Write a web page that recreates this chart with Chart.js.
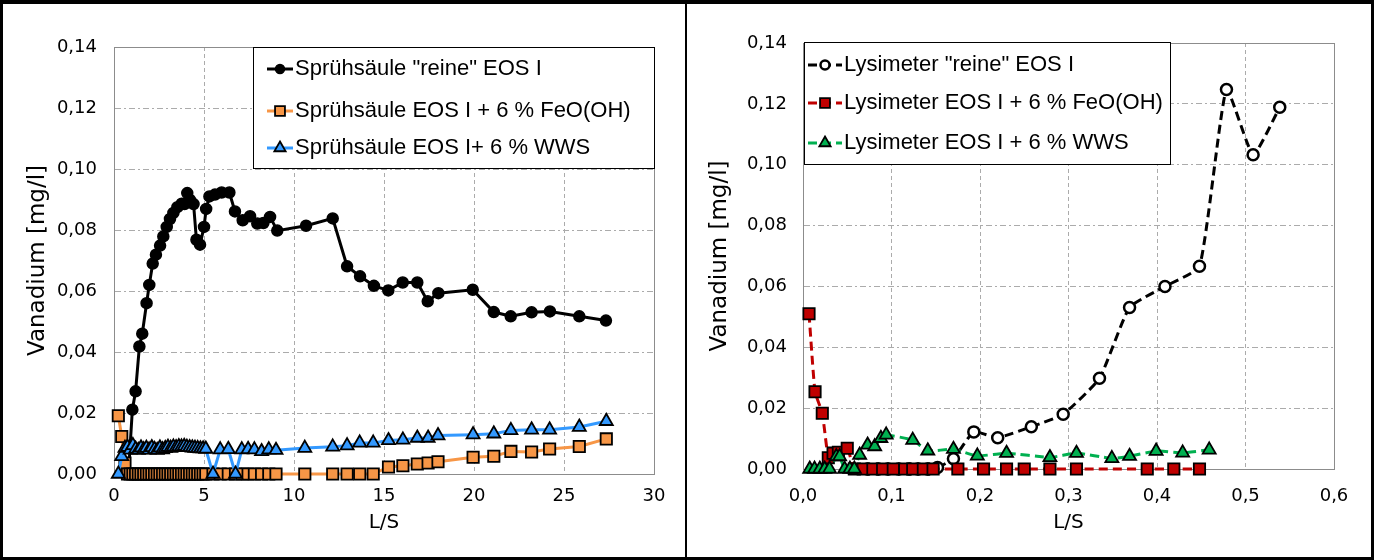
<!DOCTYPE html>
<html>
<head>
<meta charset="utf-8">
<script src="https://cdn.jsdelivr.net/npm/chart.js@4.4.1/dist/chart.umd.min.js"></script>
<style>
  html, body { margin: 0; padding: 0; background: #fff; }
  #frame {
    position: relative; width: 1374px; height: 560px; box-sizing: border-box;
    border: 3px solid #000; border-top-width: 4px;
  }
  #left { position: absolute; left: 0; top: 0; }
  #divider { position: absolute; left: 682px; top: 0; width: 2px; height: 553px; background: #000; }
  #right { position: absolute; left: 684px; top: 0; }
</style>
</head>
<body>
<div id="frame">
  <canvas id="left" width="682" height="553"></canvas>
  <div id="divider"></div>
  <canvas id="right" width="684" height="553"></canvas>
</div>
<script>
// Sprühsäule (left panel)
const sprayPureX = [0.8, 1.02, 1.2, 1.41, 1.57, 1.81, 1.96, 2.15, 2.33, 2.56, 2.74, 2.93, 3.11, 3.3, 3.52,
  3.76, 3.92, 4.07, 4.22, 4.42, 4.58, 4.78, 5.0, 5.12, 5.3, 5.61, 5.98, 6.41, 6.72, 7.15, 7.56, 7.96, 8.3,
  8.67, 9.07, 10.67, 12.15, 12.95, 13.67, 14.44, 15.24, 16.04, 16.85, 17.43, 18.02, 19.93, 21.1, 22.04,
  23.2, 24.22, 25.85, 27.33]
const sprayPureY = [0.0, 0.0211, 0.0271, 0.0418, 0.046, 0.056, 0.062, 0.069, 0.0719, 0.0749, 0.0779, 0.081,
  0.0836, 0.0856, 0.0875, 0.0886, 0.0885, 0.0921, 0.0899, 0.0885, 0.0768, 0.0752, 0.081, 0.0869, 0.091,
  0.0916, 0.0923, 0.0923, 0.0861, 0.0832, 0.0845, 0.0821, 0.0823, 0.0843, 0.0798, 0.0814, 0.0838, 0.0681,
  0.0648, 0.0617, 0.0602, 0.0628, 0.0628, 0.0566, 0.0593, 0.0604, 0.0531, 0.0517, 0.053, 0.0533, 0.0517,
  0.0503]

const sprayX = [0.24, 0.43, 0.61, 0.75, 0.9, 1.05, 1.2, 1.35, 1.5, 1.65, 1.8, 1.95, 2.1, 2.25, 2.4, 2.55,
  2.7, 2.85, 3.0, 3.15, 3.3, 3.45, 3.6, 3.75, 3.9, 4.05, 4.2, 4.35, 4.5, 4.65, 4.8, 4.95, 5.1, 5.5, 5.9,
  6.35, 6.75, 7.1, 7.45, 7.8, 8.2, 8.6, 9.0, 10.6, 12.15, 12.95, 13.65, 14.4, 15.25, 16.05, 16.85, 17.45,
  18.0, 19.95, 21.1, 22.05, 23.2, 24.2, 25.85, 27.35]
const sprayFeY = [0.0191, 0.0123, 0.0036, 0, 0, 0, 0, 0, 0, 0, 0, 0, 0, 0, 0, 0, 0, 0, 0, 0, 0, 0, 0, 0,
  0, 0, 0, 0, 0, 0, 0, 0, 0, 0, 0, 0, 0, 0, 0, 0, 0, 0, 0, 0, 0, 0, 0, 0, 0.0023, 0.0027, 0.0033, 0.0036,
  0.004, 0.0055, 0.0058, 0.0074, 0.0072, 0.0082, 0.009, 0.0115]
const sprayWwsY = [0, 0.0058, 0.0085, 0.0088, 0.0079, 0.0094, 0.0082, 0.0078, 0.0086, 0.008, 0.0085,
  0.0079, 0.0087, 0.0081, 0.0078, 0.0086, 0.008, 0.0084, 0.0088, 0.0085, 0.0089, 0.0087, 0.009, 0.0089,
  0.0091, 0.0088, 0.0087, 0.0086, 0.0085, 0.0084, 0.0083, 0.0083, 0.0082, 0, 0.008, 0.0081, 0, 0.008,
  0.0081, 0.008, 0.0074, 0.008, 0.0078, 0.0085, 0.0089, 0.0093, 0.0102, 0.0102, 0.011, 0.0112, 0.0118,
  0.0118, 0.0126, 0.0129, 0.0132, 0.0143, 0.0145, 0.0145, 0.0154, 0.0173]

// Lysimeter (right panel)
const lysPureX = [0.073, 0.085, 0.096, 0.108, 0.12, 0.13, 0.141, 0.152, 0.17, 0.193, 0.22, 0.258, 0.294,
  0.335, 0.369, 0.409, 0.448, 0.4785, 0.5086, 0.5387]
const lysPureY = [0, 0, 0, 0, 0, 0, 0, 0.0005, 0.0034, 0.0122, 0.0103, 0.0139, 0.018, 0.0298, 0.0531,
  0.06, 0.0666, 0.1247, 0.1033, 0.1189]
const lysFeX = [0.0068, 0.0136, 0.0218, 0.0286, 0.034, 0.04, 0.05, 0.058, 0.068, 0.079, 0.09, 0.102, 0.115,
  0.124, 0.136, 0.147, 0.175, 0.204, 0.23, 0.25, 0.279, 0.309, 0.389, 0.419, 0.448]
const lysFeY = [0.051, 0.0254, 0.0183, 0.0037, 0.0052, 0.0055, 0.0068, 0, 0, 0, 0, 0, 0, 0, 0, 0, 0, 0, 0,
  0, 0, 0, 0, 0, 0]
const lysWwsX = [0.0076, 0.013, 0.019, 0.0245, 0.03, 0.0376, 0.0414, 0.047, 0.053, 0.058, 0.064, 0.073,
  0.081, 0.088, 0.094, 0.124, 0.141, 0.17, 0.197, 0.23, 0.279, 0.309, 0.349, 0.369, 0.399, 0.429, 0.459]
const lysWwsY = [0, 0, 0, 0, 0, 0.0041, 0.0041, 0, 0, 0, 0.0046, 0.0079, 0.0074, 0.0101, 0.0112, 0.0095,
  0.006, 0.0065, 0.0043, 0.0052, 0.0038, 0.0052, 0.0035, 0.0042, 0.0059, 0.0053, 0.0063]

const sprayLabels = ['Sprühsäule "reine" EOS I', 'Sprühsäule EOS I + 6 % FeO(OH)', 'Sprühsäule EOS I+ 6 % WWS']
const lysLabels = ['Lysimeter "reine" EOS I', 'Lysimeter EOS I + 6 % FeO(OH)', 'Lysimeter EOS I + 6 % WWS']
const yTicks = [0, 0.02, 0.04, 0.06, 0.08, 0.1, 0.12, 0.14]

const pts = (xs, ys) => xs.map((x, i) => ({x, y: ys[i]}))
const comma = (v, d) => v.toFixed(d).replace('.', ',')

// legend box drawn inside the plot area, like the Excel original
const boxLegend = {
  id: 'boxLegend',
  afterDatasetsDraw(chart, args, opts) {
    const ctx = chart.ctx
    ctx.save()
    ctx.fillStyle = '#fff'
    ctx.fillRect(opts.x, opts.y, opts.w, opts.h)
    ctx.strokeStyle = '#000'
    ctx.lineWidth = 1
    ctx.strokeRect(opts.x + 0.5, opts.y + 0.5, opts.w, opts.h)
    chart.data.datasets.forEach((ds, i) => {
      const y = opts.rows[i]
      ctx.strokeStyle = ds.borderColor
      ctx.lineWidth = ds.borderWidth
      ctx.setLineDash(ds.borderDash || [])
      ctx.beginPath()
      ctx.moveTo(opts.lineFrom, y)
      ctx.lineTo(opts.lineTo, y)
      ctx.stroke()
      ctx.setLineDash([])
      ctx.fillStyle = ds.pointBackgroundColor
      ctx.strokeStyle = ds.pointBorderColor
      ctx.lineWidth = ds.pointBorderWidth
      Chart.helpers.drawPoint(ctx, {
        pointStyle: ds.pointStyle, radius: ds.pointRadius - 1,
        borderWidth: ds.pointBorderWidth, rotation: 0
      }, (opts.lineFrom + opts.lineTo) / 2, y)
      ctx.fillStyle = '#000'
      ctx.font = opts.font
      ctx.textBaseline = 'middle'
      ctx.fillText(ds.label, opts.textX, y)
    })
    ctx.restore()
  }
}

const plotFrame = {
  id: 'plotFrame',
  beforeDatasetsDraw(chart) {
    const {left, top, right, bottom} = chart.chartArea
    const ctx = chart.ctx
    ctx.save()
    ctx.strokeStyle = '#8c8c8c'
    ctx.lineWidth = 1
    ctx.strokeRect(left + 0.5, top + 0.5, right - left, bottom - top)
    ctx.restore()
  }
}

function scales(xMax, xDigits, geo) {
  return {
    x: {
      type: 'linear', min: 0, max: xMax,
      afterBuildTicks: s => { s.ticks = geo.xTicks.map(v => ({value: v})) },
      afterFit: s => { s.height = geo.xHeight },
      ticks: {
        color: '#000', padding: geo.xPad, maxRotation: 0,
        font: {family: 'DejaVu Sans', size: 18},
        callback: v => xDigits ? comma(v, xDigits) : String(v)
      },
      grid: {color: '#ababab', drawTicks: false},
      border: {color: '#8c8c8c', width: 1, dash: [4, 3]},
      title: {
        display: true, text: 'L/S', color: '#000',
        font: {family: 'DejaVu Sans', size: 20}, padding: {bottom: 22}
      }
    },
    y: {
      type: 'linear', min: 0, max: 0.14,
      afterBuildTicks: s => { s.ticks = yTicks.map(v => ({value: v})) },
      afterFit: s => { s.width = geo.yWidth },
      ticks: {
        color: '#000', padding: geo.yPad,
        font: {family: 'DejaVu Sans', size: 18},
        callback: v => comma(v, 2)
      },
      grid: {color: '#ababab', drawTicks: false},
      border: {color: '#8c8c8c', width: 1, dash: [6, 3, 2, 3]},
      title: {
        display: true, text: 'Vanadium [mg/l]', color: '#000',
        font: {family: 'DejaVu Sans', size: 23}, padding: {top: geo.titlePad}
      }
    }
  }
}

function series(label, data, color, style, radius, fill, edge, dash, order) {
  return {
    label, data, order,
    showLine: true, clip: false,
    borderColor: color, borderWidth: 3, borderDash: dash,
    pointStyle: style, pointRadius: radius, pointHoverRadius: radius,
    pointBackgroundColor: fill, pointBorderColor: '#000', pointBorderWidth: edge,
    tension: dash.length ? 0.15 : 0
  }
}

new Chart(document.getElementById('left'), {
  type: 'scatter',
  data: {
    datasets: [
      series(sprayLabels[0], pts(sprayPureX, sprayPureY), '#000', 'circle', 5.5, '#000', 1.5, [], 3),
      series(sprayLabels[1], pts(sprayX, sprayFeY), '#f79646', 'rect', 8, '#f79646', 1.8, [], 2),
      series(sprayLabels[2], pts(sprayX, sprayWwsY), '#3399ff', 'triangle', 7.5, '#3399ff', 1.8, [], 1)
    ]
  },
  options: {
    responsive: false, animation: false, devicePixelRatio: 1,
    layout: {padding: {top: 43, right: 31, left: 0, bottom: 0}},
    scales: scales(30, 0, {
      xTicks: [0, 5, 10, 15, 20, 25, 30], xHeight: 83, xPad: 12, yWidth: 111, yPad: 17, titlePad: 21
    }),
    plugins: {
      legend: {display: false}, tooltip: {enabled: false},
      boxLegend: {
        x: 250, y: 43, w: 401, h: 121, rows: [65, 107, 144],
        lineFrom: 264, lineTo: 290, textX: 292, font: '22px "Liberation Sans"'
      }
    }
  },
  plugins: [plotFrame, boxLegend]
})

new Chart(document.getElementById('right'), {
  type: 'scatter',
  data: {
    datasets: [
      series(lysLabels[0], pts(lysPureX, lysPureY), '#000', 'circle', 5.5, '#fff', 2.5, [9, 5], 3),
      series(lysLabels[1], pts(lysFeX, lysFeY), '#c00000', 'rect', 8, '#c00000', 1.8, [9, 5], 2),
      series(lysLabels[2], pts(lysWwsX, lysWwsY), '#00b050', 'triangle', 7.5, '#00b050', 1.8, [9, 5], 1)
    ]
  },
  options: {
    responsive: false, animation: false, devicePixelRatio: 1,
    layout: {padding: {top: 39, right: 37, left: 0, bottom: 0}},
    scales: scales(0.6, 1, {
      xTicks: [0, 0.1, 0.2, 0.3, 0.4, 0.5, 0.6], xHeight: 88, xPad: 17, yWidth: 116, yPad: 16, titlePad: 19
    }),
    plugins: {
      legend: {display: false}, tooltip: {enabled: false},
      boxLegend: {
        x: 117, y: 38, w: 366, h: 122, rows: [61, 99, 139],
        lineFrom: 121, lineTo: 155, textX: 157, font: '22px "Liberation Sans"'
      }
    }
  },
  plugins: [plotFrame, boxLegend]
})
</script>
</body>
</html>
